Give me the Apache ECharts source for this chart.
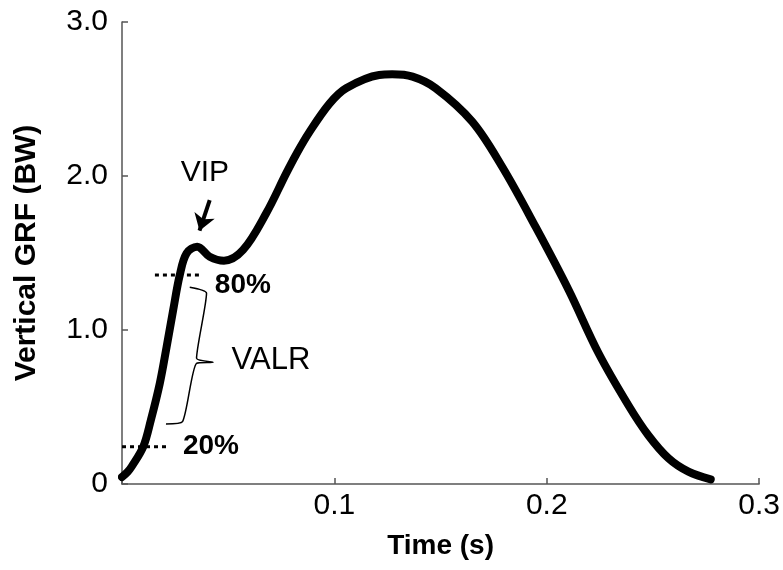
<!DOCTYPE html>
<html>
<head>
<meta charset="utf-8">
<script src="https://cdn.jsdelivr.net/npm/echarts@6/dist/echarts.min.js"></script>
<style>
html,body{margin:0;padding:0;background:#fff;}
#chart{width:783px;height:570px;}
</style>
</head>
<body>
<div id="chart"></div>
<script>
// Time (s)
var timeValues = [0.000, 0.0027, 0.0045, 0.010, 0.0136, 0.0178, 0.021, 0.0241, 0.0272, 0.0304, 0.0354, 0.0413, 0.048, 0.057, 0.0679, 0.0773, 0.082, 0.088, 0.0977, 0.1055, 0.1211, 0.1272, 0.1368, 0.1477, 0.1649, 0.179, 0.1947, 0.2103, 0.2244, 0.2385, 0.2479, 0.2573, 0.2667, 0.2772];
// Vertical GRF (BW)
var grfValues = [0.045, 0.08, 0.112, 0.242, 0.416, 0.654, 0.89, 1.13, 1.357, 1.498, 1.541, 1.476, 1.45, 1.52, 1.758, 2.017, 2.14, 2.28, 2.47, 2.57, 2.656, 2.66, 2.645, 2.57, 2.353, 2.06, 1.671, 1.26, 0.849, 0.51, 0.315, 0.167, 0.08, 0.03];

var xTicks = [0, 0.1, 0.2, 0.3];
var yTicks = [0, 1, 2, 3];

// annotation lines (data units)
var line80 = [[0.0155, 1.357], [0.0374, 1.357]];
var line20 = [[0.0, 0.242], [0.0225, 0.242]];
var braceTimes = [0.0319, 0.0398, 0.0351, 0.0429, 0.0351, 0.0285, 0.0207];
var braceValues = [1.277, 1.238, 0.816, 0.790, 0.784, 0.405, 0.390];
var arrowFrom = [0.0413, 1.844];
var arrowTo = [0.0365, 1.645];

// annotation texts and anchors (data units)
var annoTexts = ['VIP', 'VALR', '80%', '20%'];
var annoAnchors = [[0.0390, 2.02], [0.0516, 0.803], [0.0437, 1.29], [0.0287, 0.242]];

var curve = timeValues.map(function (t, i) { return [t, grfValues[i]]; });
var brace = braceTimes.map(function (t, i) { return [t, braceValues[i]]; });

var chart = echarts.init(document.getElementById('chart'));
var axisColor = '#555';
chart.setOption({
  animation: false,
  grid: { left: 122, right: 23, top: 22, bottom: 86 },
  xAxis: {
    type: 'value', min: xTicks[0], max: xTicks[xTicks.length - 1], interval: 0.1,
    name: 'Time (s)', nameLocation: 'middle', nameGap: 48,
    nameTextStyle: { fontFamily: 'Liberation Sans', fontWeight: 'bold', fontSize: 28, color: '#000' },
    axisLine: { lineStyle: { color: axisColor, width: 1.5 } },
    axisTick: { inside: true, length: 6, lineStyle: { color: axisColor, width: 1.5 } },
    axisLabel: {
      fontFamily: 'Liberation Sans', fontSize: 30, color: '#000', margin: 7,
      formatter: function (v) { return v === 0 ? '' : v.toFixed(1); }
    },
    splitLine: { show: false }
  },
  yAxis: {
    type: 'value', min: yTicks[0], max: yTicks[yTicks.length - 1], interval: 1,
    name: 'Vertical GRF (BW)', nameLocation: 'middle', nameGap: 80,
    nameTextStyle: { fontFamily: 'Liberation Sans', fontWeight: 'bold', fontSize: 30, color: '#000' },
    axisLine: { show: true, lineStyle: { color: axisColor, width: 1.5 } },
    axisTick: { show: true, inside: true, length: 6, lineStyle: { color: axisColor, width: 1.5 } },
    axisLabel: {
      fontFamily: 'Liberation Sans', fontSize: 30, color: '#000', margin: 14,
      formatter: function (v) { return v === 0 ? '0' : v.toFixed(1); }
    },
    splitLine: { show: false }
  },
  series: [
    {
      type: 'line', data: curve, smooth: 0.35, symbol: 'none',
      lineStyle: { color: '#000', width: 8, cap: 'round', join: 'round' }, z: 3
    },
    {
      type: 'line', data: line80, symbol: 'none',
      lineStyle: { color: '#000', width: 3, type: [4, 4] }, z: 2
    },
    {
      type: 'line', data: line20, symbol: 'none',
      lineStyle: { color: '#000', width: 3, type: [4, 4] }, z: 2,
      markLine: {
        silent: true, symbol: ['none', 'arrow'], symbolSize: 16,
        label: { show: false },
        lineStyle: { color: '#000', width: 4, type: 'solid' },
        data: [[{ coord: arrowFrom }, { coord: arrowTo }]]
      }
    },
    {
      type: 'line', data: brace, symbol: 'none', smooth: 0.2,
      lineStyle: { color: '#000', width: 1.5 }, z: 2
    }
  ]
});

var styles = [
  { fontSize: 30, fontWeight: 'normal', align: 'center' },
  { fontSize: 31, fontWeight: 'normal', align: 'left' },
  { fontSize: 28, fontWeight: 'bold', align: 'left' },
  { fontSize: 28, fontWeight: 'bold', align: 'left' }
];
var graphics = annoTexts.map(function (txt, i) {
  var p = chart.convertToPixel({ gridIndex: 0 }, annoAnchors[i]);
  return {
    type: 'text', x: p[0], y: p[1], z: 10,
    style: {
      text: txt, fill: '#000', fontFamily: 'Liberation Sans',
      fontSize: styles[i].fontSize, fontWeight: styles[i].fontWeight,
      align: styles[i].align, verticalAlign: 'middle'
    }
  };
});
chart.setOption({ graphic: graphics });
</script>
</body>
</html>
